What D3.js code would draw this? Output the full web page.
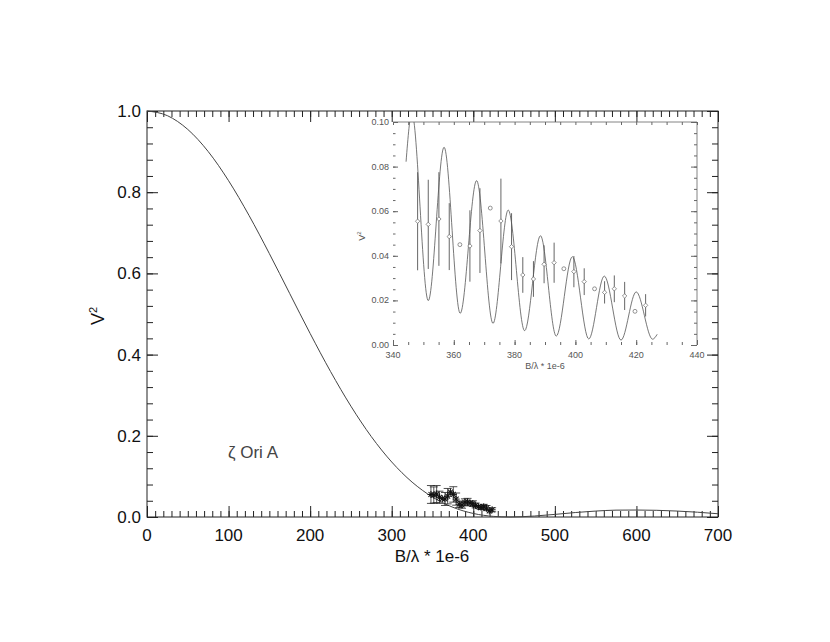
<!DOCTYPE html>
<html>
<head>
<meta charset="utf-8">
<script src="https://cdn.jsdelivr.net/npm/d3@7"></script>
<style>
  body { margin: 0; background: #fff; }
  text { font-family: "Liberation Sans", Arial, Helvetica, sans-serif; }
</style>
</head>
<body>
<svg id="chart" width="830" height="642"></svg>
<script>
// model curve (uniform disk)
var modelB  = [0, 25, 50, 75, 100, 125, 150, 175, 200, 225, 250, 275, 300, 325, 350, 375, 400, 425, 445,
               475, 500, 525, 550, 575, 600, 625, 650, 675, 700];
var modelV2 = [1, 0.9885, 0.9546, 0.9002, 0.8283, 0.7430, 0.6488, 0.5502, 0.4520, 0.3584, 0.2729, 0.1980, 0.1355,
               0.0859, 0.0491, 0.0239, 0.0087, 0.0015, 0.0,
               0.0024, 0.0064, 0.0110, 0.0146, 0.0169, 0.0172, 0.0165, 0.0146, 0.0118, 0.0080];

// binary model in the inset (turning points)
var fringeB  = [344.3, 346.2, 351.6, 356.8, 362.1, 367.5, 372.9, 377.9, 383.3, 388.5, 393.7, 399.0,
                404.4, 409.5, 415.0, 420.0, 425.4, 426.9];
var fringeV2 = [0.0822, 0.104, 0.0199, 0.0887, 0.0142, 0.0737, 0.0097, 0.0605, 0.0064, 0.049, 0.004, 0.0396,
                0.0027, 0.0309, 0.0022, 0.0238, 0.0026, 0.0048];

// observed points (err 0 = drawn without bar)
var obsB   = [348.1, 351.6, 355.1, 358.5, 362.0, 365.3, 368.6, 372.0, 375.5, 379.0, 382.7, 386.2,
              389.7, 393.0, 396.2, 399.5, 402.9, 406.3, 409.6, 412.8, 416.2, 419.6, 423.1];
var obsV2  = [0.0555, 0.0541, 0.0565, 0.0486, 0.045, 0.0444, 0.0513, 0.0614, 0.0556, 0.0441, 0.0314, 0.0296,
              0.0362, 0.0369, 0.0342, 0.0329, 0.0284, 0.0252, 0.0236, 0.0252, 0.022, 0.0151, 0.0178];
var obsErr = [0.022, 0.020, 0.021, 0.015, 0, 0.016, 0.019, 0, 0.019, 0.015, 0.008, 0.008,
              0.0085, 0.009, 0, 0.007, 0.006, 0, 0.005, 0.006, 0.0063, 0, 0.005];

var mainXTicks = [0, 100, 200, 300, 400, 500, 600, 700];
var mainYTicks = [0, 0.2, 0.4, 0.6, 0.8, 1.0];
var insetXTicks = [340, 360, 380, 400, 420, 440];
var insetYTicks = [0, 0.02, 0.04, 0.06, 0.08, 0.10];

var svg = d3.select("#chart");
var obs = obsB.map((b, i) => ({b: b, v: obsV2[i], e: obsErr[i]}));

// main panel ----------------------------------------------------------
var M = {left: 147, right: 718, top: 111, bottom: 517};
var x = d3.scaleLinear().domain([0, 700]).range([M.left, M.right]);
var y = d3.scaleLinear().domain([0, 1]).range([M.bottom, M.top]);
var ink = "#222";

var main = svg.append("g");

function ticksOn(g, scale, orient, minorStep, majorLen, minorLen, stroke) {
  var dom = scale.domain();
  var minor = d3.range(dom[0], dom[1] + minorStep / 2, minorStep);
  var ax = (orient == "bottom") ? d3.axisTop(scale) : (orient == "top") ? d3.axisBottom(scale)
         : (orient == "left") ? d3.axisRight(scale) : d3.axisLeft(scale);
  ax.tickValues(minor).tickSize(minorLen).tickFormat("");
  g.call(ax);
  g.select(".domain").remove();
  g.selectAll("line").attr("stroke", stroke);
}

// minor and major ticks on all four sides
[["bottom", x, M.bottom, 10, 6], ["top", x, M.top, 10, 6]].forEach(function (s) {
  var g = main.append("g").attr("transform", `translate(0,${s[2]})`);
  ticksOn(g, s[1], s[0], s[3], 0, s[4], ink);
  var gm = main.append("g").attr("transform", `translate(0,${s[2]})`);
  ticksOn(gm, s[1], s[0], 100, 0, 11, ink);
});
[["left", y, M.left], ["right", y, M.right]].forEach(function (s) {
  var g = main.append("g").attr("transform", `translate(${s[2]},0)`);
  ticksOn(g, s[1], s[0], 0.04, 0, 6, ink);
  var gm = main.append("g").attr("transform", `translate(${s[2]},0)`);
  ticksOn(gm, s[1], s[0], 0.2, 0, 11, ink);
});

main.append("rect")
  .attr("x", M.left).attr("y", M.top)
  .attr("width", M.right - M.left).attr("height", M.bottom - M.top)
  .attr("fill", "none").attr("stroke", ink).attr("stroke-width", 1);

main.selectAll(".xl").data(mainXTicks).enter().append("text")
  .attr("x", d => x(d)).attr("y", M.bottom + 24)
  .attr("text-anchor", "middle").attr("font-size", 17).attr("fill", "#111")
  .text(d => d);

main.selectAll(".yl").data(mainYTicks).enter().append("text")
  .attr("x", M.left - 6).attr("y", d => y(d) + 6)
  .attr("text-anchor", "end").attr("font-size", 17).attr("fill", "#111")
  .text(d => d3.format(".1f")(d));

main.append("text")
  .attr("x", 432).attr("y", 562)
  .attr("text-anchor", "middle").attr("font-size", 17).attr("fill", "#111")
  .text("B/λ * 1e-6");

var yt = main.append("text")
  .attr("transform", "translate(104,316) rotate(-90)")
  .attr("text-anchor", "middle").attr("font-size", 18).attr("fill", "#111");
yt.append("tspan").text("V");
yt.append("tspan").attr("dy", -7).attr("font-size", 11).text("2");

main.append("text")
  .attr("x", 228).attr("y", 458)
  .attr("font-size", 17).attr("fill", "#444")
  .text("ζ Ori A");

var line = d3.line().x(d => x(d[0])).y(d => y(d[1])).curve(d3.curveMonotoneX);
main.append("path")
  .datum(modelB.map((b, i) => [b, modelV2[i]]))
  .attr("d", line)
  .attr("fill", "none").attr("stroke", "#444").attr("stroke-width", 1);

// stars with error bars
var bars = main.selectAll(".eb").data(obs.filter(d => d.e > 0)).enter().append("g");
bars.append("line")
  .attr("x1", d => x(d.b)).attr("x2", d => x(d.b))
  .attr("y1", d => y(d.v + d.e)).attr("y2", d => y(d.v - d.e))
  .attr("stroke", ink).attr("stroke-width", 0.8);
[1, -1].forEach(function (sgn) {
  bars.append("line")
    .attr("x1", d => x(d.b) - 4).attr("x2", d => x(d.b) + 4)
    .attr("y1", d => y(d.v + sgn * d.e)).attr("y2", d => y(d.v + sgn * d.e))
    .attr("stroke", ink).attr("stroke-width", 0.8);
});

var stars = main.selectAll(".st").data(obs).enter().append("g")
  .attr("transform", d => `translate(${x(d.b)},${y(d.v)})`);
[0, 45, 90, 135].forEach(function (a) {
  stars.append("line")
    .attr("x1", -3.5).attr("x2", 3.5).attr("y1", 0).attr("y2", 0)
    .attr("transform", `rotate(${a})`)
    .attr("stroke", "#111").attr("stroke-width", 1);
});

// inset -----------------------------------------------------------------
var I = {left: 393, right: 697, top: 122, bottom: 345};
var ix = d3.scaleLinear().domain([340, 440]).range([I.left, I.right]);
var iy = d3.scaleLinear().domain([0, 0.1]).range([I.bottom, I.top]);
var gray = "#666";

var inset = svg.append("g");
inset.append("rect")
  .attr("x", I.left).attr("y", I.top)
  .attr("width", I.right - I.left).attr("height", I.bottom - I.top)
  .attr("fill", "#fff");

var g1 = inset.append("g").attr("transform", `translate(0,${I.bottom})`);
ticksOn(g1, ix, "bottom", 5, 0, 3, gray);
var g2 = inset.append("g").attr("transform", `translate(0,${I.bottom})`);
ticksOn(g2, ix, "bottom", 20, 0, 5, gray);
var g3 = inset.append("g").attr("transform", `translate(0,${I.top})`);
ticksOn(g3, ix, "top", 5, 0, 3, gray);
var g4 = inset.append("g").attr("transform", `translate(${I.left},0)`);
ticksOn(g4, iy, "left", 0.005, 0, 2.5, gray);
var g5 = inset.append("g").attr("transform", `translate(${I.left},0)`);
ticksOn(g5, iy, "left", 0.02, 0, 5, gray);
var g6 = inset.append("g").attr("transform", `translate(${I.right},0)`);
ticksOn(g6, iy, "right", 0.005, 0, 3, gray);
var g7 = inset.append("g").attr("transform", `translate(${I.right},0)`);
ticksOn(g7, iy, "right", 0.02, 0, 6, gray);

inset.append("line")
  .attr("x1", I.left).attr("x2", I.right).attr("y1", I.top).attr("y2", I.top)
  .attr("stroke", gray).attr("stroke-width", 0.8);
inset.append("line")
  .attr("x1", I.right).attr("x2", I.right).attr("y1", I.top).attr("y2", I.bottom)
  .attr("stroke", gray).attr("stroke-width", 0.8);

inset.selectAll(".ixl").data(insetXTicks).enter().append("text")
  .attr("x", d => ix(d)).attr("y", I.bottom + 13)
  .attr("text-anchor", "middle").attr("font-size", 9).attr("fill", "#555")
  .text(d => d);
inset.selectAll(".iyl").data(insetYTicks).enter().append("text")
  .attr("x", I.left - 4).attr("y", d => iy(d) + 3)
  .attr("text-anchor", "end").attr("font-size", 9).attr("fill", "#555")
  .text(d => d3.format(".2f")(d));
inset.append("text")
  .attr("x", (I.left + I.right) / 2).attr("y", I.bottom + 24)
  .attr("text-anchor", "middle").attr("font-size", 9).attr("fill", "#555")
  .text("B/λ * 1e-6");
var iyt = inset.append("text")
  .attr("transform", "translate(365,236) rotate(-90)")
  .attr("text-anchor", "middle").attr("font-size", 9).attr("fill", "#555");
iyt.append("tspan").text("V");
iyt.append("tspan").attr("dy", -4).attr("font-size", 6).text("2");

inset.append("clipPath").attr("id", "iclip").append("rect")
  .attr("x", I.left).attr("y", I.top)
  .attr("width", I.right - I.left).attr("height", I.bottom - I.top);

var iline = d3.line().x(d => ix(d[0])).y(d => iy(d[1])).curve(d3.curveMonotoneX);
inset.append("path")
  .datum(fringeB.map((b, i) => [b, fringeV2[i]]))
  .attr("clip-path", "url(#iclip)")
  .attr("d", iline)
  .attr("fill", "none").attr("stroke", "#555").attr("stroke-width", 0.8);

inset.selectAll(".ieb").data(obs.filter(d => d.e > 0)).enter().append("line")
  .attr("x1", d => ix(d.b)).attr("x2", d => ix(d.b))
  .attr("y1", d => iy(d.v + d.e)).attr("y2", d => iy(d.v - d.e))
  .attr("stroke", "#555").attr("stroke-width", 0.9);

inset.selectAll(".ipt").data(obs).enter().append("path")
  .attr("transform", d => `translate(${ix(d.b)},${iy(d.v)})`)
  .attr("d", d => d.e > 0 ? "M0,-2.2L2.2,0L0,2.2L-2.2,0Z" : d3.symbol().type(d3.symbolCircle).size(12)())
  .attr("fill", "#fff").attr("stroke", "#666").attr("stroke-width", 0.7);
</script>
</body>
</html>
